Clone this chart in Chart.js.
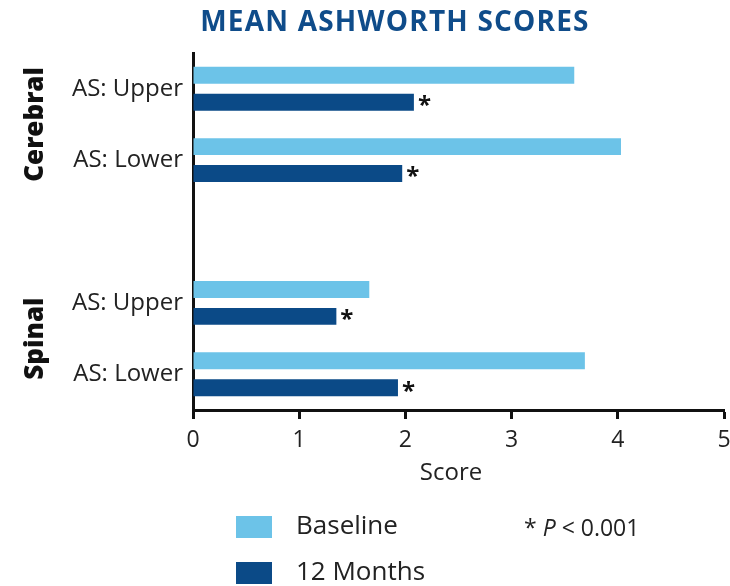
<!DOCTYPE html>
<html>
<head>
<meta charset="utf-8">
<script src="https://cdn.jsdelivr.net/npm/chart.js@4"></script>
<style>
  html, body { margin: 0; padding: 0; background: #fff; }
  #wrap { width: 730px; height: 586px; }
</style>
</head>
<body>
<div id="wrap"><canvas id="ctx" width="730" height="586"></canvas></div>
<script>
const categories = ['AS: Upper', 'AS: Lower', '', 'AS: Upper', 'AS: Lower'];
const groups = ['Cerebral', 'Spinal'];
const baseline = [3.59, 4.03, null, 1.66, 3.69];
const months12 = [2.08, 1.97, null, 1.35, 1.93];
const xTicks = [0, 1, 2, 3, 4, 5];

const lightBlue = '#6cc3e8';
const darkBlue = '#0b4a87';
const font = '"Open Sans", Lato, sans-serif';

const extras = {
    id: 'extras',
    afterDraw(chart) {
        const c = chart.ctx;
        const y = chart.scales.y;
        c.save();

        // title
        c.fillStyle = '#0f4c8a';
        c.font = 'bold 28px ' + font;
        c.letterSpacing = '1.2px';
        c.textAlign = 'center';
        c.textBaseline = 'middle';
        c.fillText('MEAN ASHWORTH SCORES', 395, 23);
        c.letterSpacing = '0px';

        // asterisks after the 12 month bars
        c.fillStyle = '#111';
        c.font = 'bold 24px ' + font;
        c.textAlign = 'left';
        chart.getDatasetMeta(1).data.forEach((bar, i) => {
            if (months12[i] == null) return;
            c.fillText('*', bar.x + 4, bar.y + 4);
        });

        // group labels
        c.font = '800 26px ' + font;
        c.textAlign = 'center';
        const gy = [(y.getPixelForValue(0) + y.getPixelForValue(1)) / 2,
                    (y.getPixelForValue(3) + y.getPixelForValue(4)) / 2];
        groups.forEach((g, i) => {
            c.save();
            c.translate(36, gy[i]);
            c.rotate(-Math.PI / 2);
            c.fillText(g, 0, 0);
            c.restore();
        });

        // axis title
        c.font = '24px ' + font;
        c.fillStyle = '#222';
        c.fillText('Score', 451, 473);

        // legend
        c.textAlign = 'left';
        chart.data.datasets.forEach((ds, i) => {
            const top = 516 + i * 46;
            c.fillStyle = ds.backgroundColor;
            c.fillRect(236, top, 36, 22);
            c.fillStyle = '#222';
            c.font = '26px ' + font;
            c.fillText(ds.label, 296, top + 11);
        });

        c.font = '23px ' + font;
        let px = 524;
        c.fillText('* ', px, 529);
        px += c.measureText('* ').width;
        c.font = 'italic 23px ' + font;
        c.fillText('P', px, 529);
        px += c.measureText('P ').width;
        c.font = '23px ' + font;
        c.fillText('< 0.001', px, 529);
        c.restore();
    }
};

new Chart(document.getElementById('ctx'), {
    type: 'bar',
    data: {
        labels: categories,
        datasets: [
            { label: 'Baseline', data: baseline, backgroundColor: lightBlue },
            { label: '12 Months', data: months12, backgroundColor: darkBlue }
        ]
    },
    options: {
        indexAxis: 'y',
        responsive: false,
        animation: false,
        categoryPercentage: 0.754,
        barPercentage: 0.63,
        layout: { padding: { left: 0, right: 6, top: 53, bottom: 0 } },
        plugins: {
            legend: { display: false },
            tooltip: { enabled: false },
            title: { display: false }
        },
        scales: {
            x: {
                min: 0,
                max: 5,
                afterBuildTicks: s => { s.ticks = xTicks.map(v => ({ value: v })); },
                afterFit: s => { s.height = 176; s.paddingRight = 0; s.paddingLeft = 0; },
                grid: { drawOnChartArea: false, tickLength: 9, tickWidth: 3, tickColor: '#111' },
                border: { color: '#111', width: 3 },
                ticks: { color: '#222', padding: 8, font: { family: font, size: 23 } }
            },
            y: {
                afterFit: s => { s.width = 193; },
                grid: { display: false },
                border: { color: '#111', width: 3 },
                ticks: { color: '#222', padding: 2, font: { family: font, size: 24 } }
            }
        }
    },
    plugins: [extras]
});
</script>
</body>
</html>
